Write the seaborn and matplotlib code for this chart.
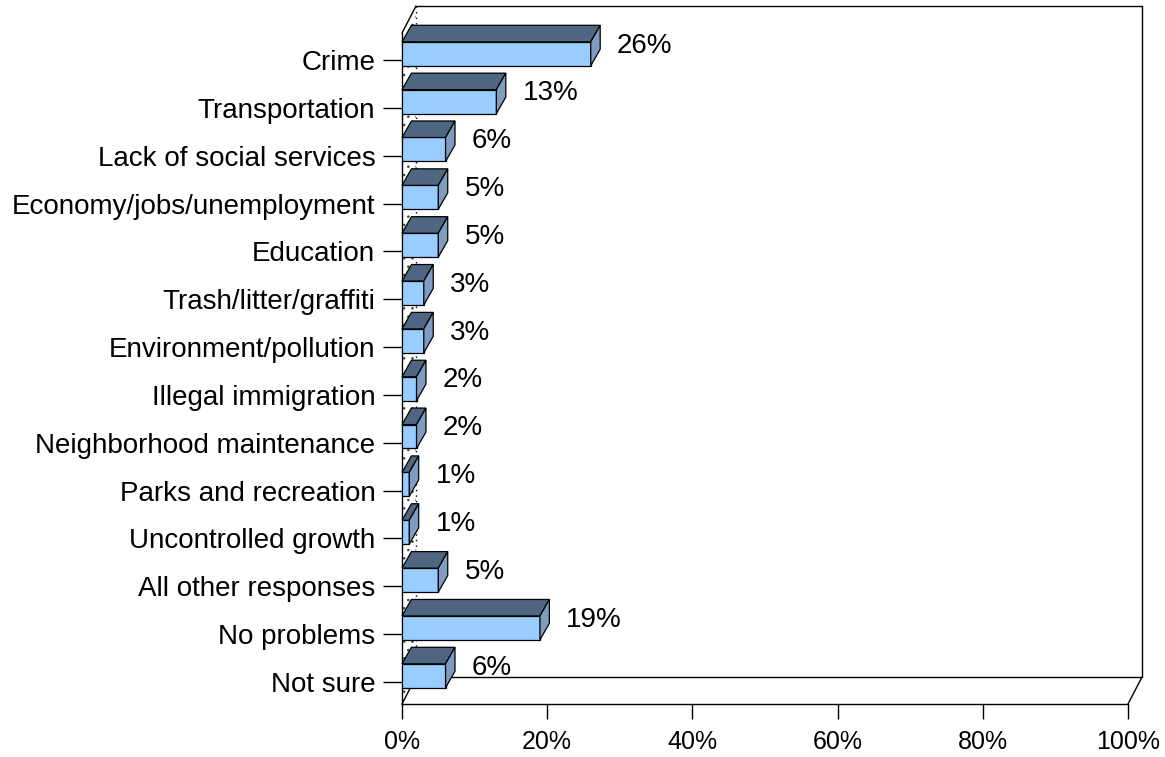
import matplotlib
matplotlib.use("Agg")
import matplotlib.pyplot as plt
from matplotlib.patches import Polygon
import pandas as pd
import seaborn as sns

# Survey results: most important problem facing the community
categories = [
    "Crime",
    "Transportation",
    "Lack of social services",
    "Economy/jobs/unemployment",
    "Education",
    "Trash/litter/graffiti",
    "Environment/pollution",
    "Illegal immigration",
    "Neighborhood maintenance",
    "Parks and recreation",
    "Uncontrolled growth",
    "All other responses",
    "No problems",
    "Not sure",
]
percents = [26, 13, 6, 5, 5, 3, 3, 2, 2, 1, 1, 5, 19, 6]
x_ticks = [0, 20, 40, 60, 80, 100]
x_tick_labels = ["0%", "20%", "40%", "60%", "80%", "100%"]

# Colours of the pseudo-3D boxes
FRONT = "#99CCFF"
TOP = "#4F6680"
SIDE = "#7E9CC0"

# Pseudo-3D geometry (x in percent units, y in category units)
WALL_DX, WALL_DY = 1.93, 0.564
BAR_DX, BAR_DY = 1.3, 0.345
BAR_SHIFT = 0.13
LABEL_GAP = 3.6

sns.set_theme(style="ticks", rc={
    "axes.edgecolor": "black",
    "text.color": "black",
    "xtick.color": "black",
    "ytick.color": "black",
    "axes.labelcolor": "black",
    "hatch.linewidth": 0.6,
})
plt.rcParams["font.family"] = ["Liberation Sans", "DejaVu Sans"]

df = pd.DataFrame({"problem": categories, "percent": percents})

fig = plt.figure(figsize=(11.65, 7.57), dpi=100)
ax = fig.add_axes([402 / 1165, 53 / 757, 726 / 1165, 671 / 757])

sns.barplot(data=df, x="percent", y="problem", orient="h", ax=ax,
            color=FRONT, saturation=1, width=0.5,
            edgecolor="black", linewidth=0.9, zorder=5)

ax.set_xlim(0, 100)
ax.set_ylim(13.46, -0.564)
y_top, y_bot = ax.get_ylim()[1], ax.get_ylim()[0]

# Back wall and floor outline
wall_kw = dict(color="black", lw=1.0, clip_on=False, zorder=1)
ax.plot([WALL_DX, 100 + WALL_DX], [y_top - WALL_DY] * 2, **wall_kw)
ax.plot([100 + WALL_DX] * 2, [y_top - WALL_DY, y_bot - WALL_DY], **wall_kw)
ax.plot([WALL_DX, 100 + WALL_DX], [y_bot - WALL_DY] * 2, **wall_kw)
ax.plot([100 + WALL_DX, 100], [y_bot - WALL_DY, y_bot], **wall_kw)
ax.plot([0, WALL_DX], [y_bot, y_bot - WALL_DY], **wall_kw)
ax.plot([0, WALL_DX], [y_top, y_top - WALL_DY], **wall_kw)

# Dotted left side wall
side_wall = Polygon([(0, y_top), (WALL_DX, y_top - WALL_DY),
                     (WALL_DX, y_bot - WALL_DY), (0, y_bot)],
                    closed=True, facecolor="white", edgecolor="#444444",
                    lw=0, hatch="..", clip_on=False, zorder=0.5)
ax.add_patch(side_wall)
ax.plot([WALL_DX] * 2, [y_top - WALL_DY, y_bot - WALL_DY],
        color="black", lw=1.0, ls=(0, (1, 3)), clip_on=False, zorder=1)

# Turn each flat bar into a box with a top and a side face
for patch, value in zip(ax.patches[:len(percents)], percents):
    patch.set_y(patch.get_y() - BAR_SHIFT)
    x0, w = patch.get_x(), patch.get_width()
    y0, h = patch.get_y(), patch.get_height()
    top = Polygon([(x0, y0), (x0 + w, y0), (x0 + w + BAR_DX, y0 - BAR_DY),
                   (x0 + BAR_DX, y0 - BAR_DY)], closed=True,
                  facecolor=TOP, edgecolor="black", lw=0.9, zorder=5,
                  clip_on=False)
    side = Polygon([(x0 + w, y0), (x0 + w, y0 + h),
                    (x0 + w + BAR_DX, y0 + h - BAR_DY),
                    (x0 + w + BAR_DX, y0 - BAR_DY)], closed=True,
                   facecolor=SIDE, edgecolor="black", lw=0.9, zorder=5,
                   clip_on=False)
    ax.add_patch(top)
    ax.add_patch(side)
    ax.text(x0 + w + LABEL_GAP, y0 + (h - BAR_DY) / 2, f"{value}%",
            ha="left", va="center", fontsize=20, zorder=6)

ax.set_xticks(x_ticks)
ax.set_xticklabels(x_tick_labels)
ax.set_xlabel("")
ax.set_ylabel("")
sns.despine(ax=ax)
for side_name in ("left", "bottom"):
    ax.spines[side_name].set_linewidth(1.0)
    ax.spines[side_name].set_zorder(2)
ax.tick_params(axis="y", length=13.7, width=1.0, pad=5.5, labelsize=20)
ax.tick_params(axis="x", length=11, width=1.0, pad=8, labelsize=18)

fig.savefig("out.png", dpi=100, facecolor="white")
